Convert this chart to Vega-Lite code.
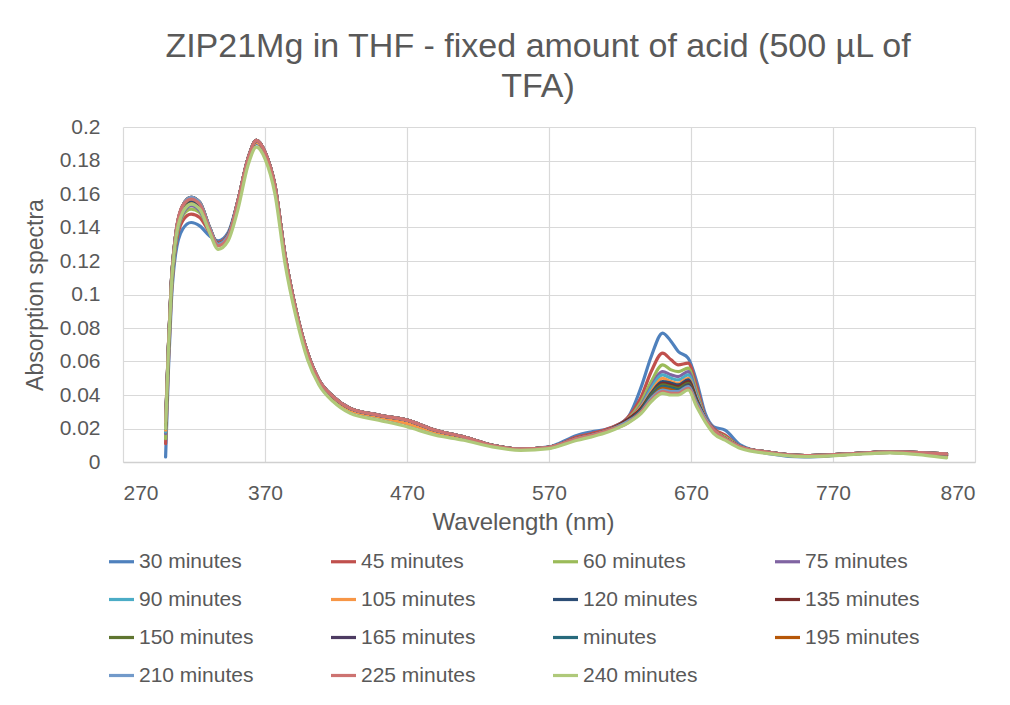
{
  "$schema": "https://vega.github.io/schema/vega-lite/v6.json",
  "width": 852,
  "height": 335,
  "autosize": {"type": "none"},
  "padding": {"left": 123, "top": 127, "right": 35, "bottom": 243},
  "background": "white",
  "title": {
    "text": ["ZIP21Mg in THF - fixed amount of acid (500 µL of", "TFA)"],
    "font": "Liberation Sans",
    "fontSize": 34,
    "fontWeight": "normal",
    "color": "#595959",
    "anchor": "middle",
    "frame": "group",
    "lineHeight": 40,
    "offset": 12,
    "dx": -11
  },
  "data": {
    "values": [
      {"s":"30 minutes","w":300,"a":0.003},{"s":"30 minutes","w":302,"a":0.055},{"s":"30 minutes","w":304,"a":0.095},{"s":"30 minutes","w":307,"a":0.124},{"s":"30 minutes","w":312,"a":0.139},{"s":"30 minutes","w":318,"a":0.143},{"s":"30 minutes","w":324,"a":0.141},{"s":"30 minutes","w":331,"a":0.135},{"s":"30 minutes","w":337,"a":0.132},{"s":"30 minutes","w":344,"a":0.137},
      {"s":"30 minutes","w":351,"a":0.156},{"s":"30 minutes","w":358,"a":0.179},{"s":"30 minutes","w":364,"a":0.190},{"s":"30 minutes","w":370,"a":0.184},{"s":"30 minutes","w":377,"a":0.164},{"s":"30 minutes","w":384,"a":0.123},{"s":"30 minutes","w":392,"a":0.089},{"s":"30 minutes","w":400,"a":0.064},{"s":"30 minutes","w":408,"a":0.048},{"s":"30 minutes","w":418,"a":0.038},{"s":"30 minutes","w":430,"a":0.031},{"s":"30 minutes","w":450,"a":0.027},{"s":"30 minutes","w":470,"a":0.024},{"s":"30 minutes","w":490,"a":0.018},{"s":"30 minutes","w":510,"a":0.014},{"s":"30 minutes","w":530,"a":0.010},{"s":"30 minutes","w":550,"a":0.0075},{"s":"30 minutes","w":570,"a":0.009},
      {"s":"30 minutes","w":590,"a":0.016},{"s":"30 minutes","w":600,"a":0.018},{"s":"30 minutes","w":612,"a":0.020},{"s":"30 minutes","w":625,"a":0.026},{"s":"30 minutes","w":635,"a":0.045},{"s":"30 minutes","w":642,"a":0.063},{"s":"30 minutes","w":650,"a":0.077},{"s":"30 minutes","w":656,"a":0.072},{"s":"30 minutes","w":661,"a":0.066},{"s":"30 minutes","w":668,"a":0.062},{"s":"30 minutes","w":674,"a":0.048},{"s":"30 minutes","w":680,"a":0.029},{"s":"30 minutes","w":686,"a":0.021},{"s":"30 minutes","w":694,"a":0.019},
      {"s":"30 minutes","w":705,"a":0.010},{"s":"30 minutes","w":725,"a":0.005},{"s":"30 minutes","w":750,"a":0.003},{"s":"30 minutes","w":780,"a":0.0045},{"s":"30 minutes","w":810,"a":0.0058},{"s":"30 minutes","w":835,"a":0.0045},{"s":"30 minutes","w":850,"a":0.0035},

      {"s":"45 minutes","w":300,"a":0.011},{"s":"45 minutes","w":302,"a":0.060},{"s":"45 minutes","w":304,"a":0.099},{"s":"45 minutes","w":307,"a":0.128},{"s":"45 minutes","w":312,"a":0.144},{"s":"45 minutes","w":318,"a":0.148},{"s":"45 minutes","w":324,"a":0.146},{"s":"45 minutes","w":331,"a":0.137},{"s":"45 minutes","w":337,"a":0.131},{"s":"45 minutes","w":344,"a":0.136},
      {"s":"45 minutes","w":351,"a":0.155},{"s":"45 minutes","w":358,"a":0.180},{"s":"45 minutes","w":364,"a":0.191},{"s":"45 minutes","w":370,"a":0.184},{"s":"45 minutes","w":377,"a":0.164},{"s":"45 minutes","w":384,"a":0.123},{"s":"45 minutes","w":392,"a":0.089},{"s":"45 minutes","w":400,"a":0.064},{"s":"45 minutes","w":408,"a":0.048},{"s":"45 minutes","w":418,"a":0.038},{"s":"45 minutes","w":430,"a":0.031},{"s":"45 minutes","w":450,"a":0.027},{"s":"45 minutes","w":470,"a":0.023},{"s":"45 minutes","w":490,"a":0.018},{"s":"45 minutes","w":510,"a":0.014},{"s":"45 minutes","w":530,"a":0.010},{"s":"45 minutes","w":550,"a":0.0075},{"s":"45 minutes","w":570,"a":0.0085},
      {"s":"45 minutes","w":590,"a":0.015},{"s":"45 minutes","w":600,"a":0.017},{"s":"45 minutes","w":612,"a":0.020},{"s":"45 minutes","w":625,"a":0.026},{"s":"45 minutes","w":635,"a":0.039},{"s":"45 minutes","w":642,"a":0.054},{"s":"45 minutes","w":650,"a":0.065},{"s":"45 minutes","w":656,"a":0.061},{"s":"45 minutes","w":661,"a":0.058},{"s":"45 minutes","w":668,"a":0.059},{"s":"45 minutes","w":674,"a":0.045},{"s":"45 minutes","w":680,"a":0.027},{"s":"45 minutes","w":686,"a":0.020},{"s":"45 minutes","w":694,"a":0.016},
      {"s":"45 minutes","w":705,"a":0.009},{"s":"45 minutes","w":725,"a":0.0055},{"s":"45 minutes","w":750,"a":0.0035},{"s":"45 minutes","w":780,"a":0.0045},{"s":"45 minutes","w":810,"a":0.0058},{"s":"45 minutes","w":835,"a":0.0048},{"s":"45 minutes","w":850,"a":0.004},

      {"s":"60 minutes","w":300,"a":0.014},{"s":"60 minutes","w":302,"a":0.063},{"s":"60 minutes","w":304,"a":0.101},{"s":"60 minutes","w":307,"a":0.130},{"s":"60 minutes","w":312,"a":0.147},{"s":"60 minutes","w":318,"a":0.151},{"s":"60 minutes","w":324,"a":0.149},{"s":"60 minutes","w":331,"a":0.138},{"s":"60 minutes","w":337,"a":0.130},{"s":"60 minutes","w":344,"a":0.135},
      {"s":"60 minutes","w":351,"a":0.155},{"s":"60 minutes","w":358,"a":0.180},{"s":"60 minutes","w":364,"a":0.191},{"s":"60 minutes","w":370,"a":0.184},{"s":"60 minutes","w":377,"a":0.164},{"s":"60 minutes","w":384,"a":0.123},{"s":"60 minutes","w":392,"a":0.089},{"s":"60 minutes","w":400,"a":0.064},{"s":"60 minutes","w":408,"a":0.048},{"s":"60 minutes","w":418,"a":0.038},{"s":"60 minutes","w":430,"a":0.031},{"s":"60 minutes","w":450,"a":0.027},{"s":"60 minutes","w":470,"a":0.023},{"s":"60 minutes","w":490,"a":0.018},{"s":"60 minutes","w":510,"a":0.014},{"s":"60 minutes","w":530,"a":0.010},{"s":"60 minutes","w":550,"a":0.0075},{"s":"60 minutes","w":570,"a":0.0085},
      {"s":"60 minutes","w":590,"a":0.014},{"s":"60 minutes","w":600,"a":0.016},{"s":"60 minutes","w":612,"a":0.019},{"s":"60 minutes","w":625,"a":0.025},{"s":"60 minutes","w":635,"a":0.036},{"s":"60 minutes","w":642,"a":0.048},{"s":"60 minutes","w":650,"a":0.058},{"s":"60 minutes","w":656,"a":0.055},{"s":"60 minutes","w":661,"a":0.054},{"s":"60 minutes","w":668,"a":0.056},{"s":"60 minutes","w":674,"a":0.042},{"s":"60 minutes","w":680,"a":0.026},{"s":"60 minutes","w":686,"a":0.019},{"s":"60 minutes","w":694,"a":0.015},
      {"s":"60 minutes","w":705,"a":0.009},{"s":"60 minutes","w":725,"a":0.0055},{"s":"60 minutes","w":750,"a":0.0035},{"s":"60 minutes","w":780,"a":0.0045},{"s":"60 minutes","w":810,"a":0.0058},{"s":"60 minutes","w":835,"a":0.0048},{"s":"60 minutes","w":850,"a":0.004},

      {"s":"75 minutes","w":300,"a":0.017},{"s":"75 minutes","w":302,"a":0.065},{"s":"75 minutes","w":304,"a":0.103},{"s":"75 minutes","w":307,"a":0.131},{"s":"75 minutes","w":312,"a":0.148},{"s":"75 minutes","w":318,"a":0.153},{"s":"75 minutes","w":324,"a":0.150},{"s":"75 minutes","w":331,"a":0.138},{"s":"75 minutes","w":337,"a":0.130},{"s":"75 minutes","w":344,"a":0.135},
      {"s":"75 minutes","w":351,"a":0.155},{"s":"75 minutes","w":358,"a":0.180},{"s":"75 minutes","w":364,"a":0.191},{"s":"75 minutes","w":370,"a":0.184},{"s":"75 minutes","w":377,"a":0.164},{"s":"75 minutes","w":384,"a":0.123},{"s":"75 minutes","w":392,"a":0.089},{"s":"75 minutes","w":400,"a":0.064},{"s":"75 minutes","w":408,"a":0.048},{"s":"75 minutes","w":418,"a":0.038},{"s":"75 minutes","w":430,"a":0.031},{"s":"75 minutes","w":450,"a":0.027},{"s":"75 minutes","w":470,"a":0.023},{"s":"75 minutes","w":490,"a":0.018},{"s":"75 minutes","w":510,"a":0.014},{"s":"75 minutes","w":530,"a":0.010},{"s":"75 minutes","w":550,"a":0.0075},{"s":"75 minutes","w":570,"a":0.0085},
      {"s":"75 minutes","w":590,"a":0.014},{"s":"75 minutes","w":600,"a":0.016},{"s":"75 minutes","w":612,"a":0.019},{"s":"75 minutes","w":625,"a":0.025},{"s":"75 minutes","w":635,"a":0.034},{"s":"75 minutes","w":642,"a":0.045},{"s":"75 minutes","w":650,"a":0.054},{"s":"75 minutes","w":656,"a":0.052},{"s":"75 minutes","w":661,"a":0.051},{"s":"75 minutes","w":668,"a":0.054},{"s":"75 minutes","w":674,"a":0.040},{"s":"75 minutes","w":680,"a":0.026},{"s":"75 minutes","w":686,"a":0.019},{"s":"75 minutes","w":694,"a":0.014},
      {"s":"75 minutes","w":705,"a":0.009},{"s":"75 minutes","w":725,"a":0.0055},{"s":"75 minutes","w":750,"a":0.0035},{"s":"75 minutes","w":780,"a":0.0045},{"s":"75 minutes","w":810,"a":0.0058},{"s":"75 minutes","w":835,"a":0.0048},{"s":"75 minutes","w":850,"a":0.004},

      {"s":"90 minutes","w":300,"a":0.018},{"s":"90 minutes","w":302,"a":0.066},{"s":"90 minutes","w":304,"a":0.104},{"s":"90 minutes","w":307,"a":0.132},{"s":"90 minutes","w":312,"a":0.149},{"s":"90 minutes","w":318,"a":0.154},{"s":"90 minutes","w":324,"a":0.151},{"s":"90 minutes","w":331,"a":0.138},{"s":"90 minutes","w":337,"a":0.130},{"s":"90 minutes","w":344,"a":0.135},
      {"s":"90 minutes","w":351,"a":0.155},{"s":"90 minutes","w":358,"a":0.180},{"s":"90 minutes","w":364,"a":0.191},{"s":"90 minutes","w":370,"a":0.184},{"s":"90 minutes","w":377,"a":0.164},{"s":"90 minutes","w":384,"a":0.123},{"s":"90 minutes","w":392,"a":0.089},{"s":"90 minutes","w":400,"a":0.064},{"s":"90 minutes","w":408,"a":0.048},{"s":"90 minutes","w":418,"a":0.038},{"s":"90 minutes","w":430,"a":0.031},{"s":"90 minutes","w":450,"a":0.027},{"s":"90 minutes","w":470,"a":0.023},{"s":"90 minutes","w":490,"a":0.018},{"s":"90 minutes","w":510,"a":0.014},{"s":"90 minutes","w":530,"a":0.010},{"s":"90 minutes","w":550,"a":0.0075},{"s":"90 minutes","w":570,"a":0.0085},
      {"s":"90 minutes","w":590,"a":0.014},{"s":"90 minutes","w":600,"a":0.016},{"s":"90 minutes","w":612,"a":0.019},{"s":"90 minutes","w":625,"a":0.025},{"s":"90 minutes","w":635,"a":0.033},{"s":"90 minutes","w":642,"a":0.044},{"s":"90 minutes","w":650,"a":0.052},{"s":"90 minutes","w":656,"a":0.050},{"s":"90 minutes","w":661,"a":0.049},{"s":"90 minutes","w":668,"a":0.052},{"s":"90 minutes","w":674,"a":0.039},{"s":"90 minutes","w":680,"a":0.026},{"s":"90 minutes","w":686,"a":0.019},{"s":"90 minutes","w":694,"a":0.014},
      {"s":"90 minutes","w":705,"a":0.009},{"s":"90 minutes","w":725,"a":0.0055},{"s":"90 minutes","w":750,"a":0.0035},{"s":"90 minutes","w":780,"a":0.0045},{"s":"90 minutes","w":810,"a":0.0058},{"s":"90 minutes","w":835,"a":0.0048},{"s":"90 minutes","w":850,"a":0.004},

      {"s":"105 minutes","w":300,"a":0.019},{"s":"105 minutes","w":302,"a":0.067},{"s":"105 minutes","w":304,"a":0.105},{"s":"105 minutes","w":307,"a":0.133},{"s":"105 minutes","w":312,"a":0.150},{"s":"105 minutes","w":318,"a":0.155},{"s":"105 minutes","w":324,"a":0.152},{"s":"105 minutes","w":331,"a":0.139},{"s":"105 minutes","w":337,"a":0.130},{"s":"105 minutes","w":344,"a":0.135},
      {"s":"105 minutes","w":351,"a":0.155},{"s":"105 minutes","w":358,"a":0.180},{"s":"105 minutes","w":364,"a":0.191},{"s":"105 minutes","w":370,"a":0.184},{"s":"105 minutes","w":377,"a":0.164},{"s":"105 minutes","w":384,"a":0.123},{"s":"105 minutes","w":392,"a":0.089},{"s":"105 minutes","w":400,"a":0.064},{"s":"105 minutes","w":408,"a":0.048},{"s":"105 minutes","w":418,"a":0.038},{"s":"105 minutes","w":430,"a":0.031},{"s":"105 minutes","w":450,"a":0.027},{"s":"105 minutes","w":470,"a":0.023},{"s":"105 minutes","w":490,"a":0.018},{"s":"105 minutes","w":510,"a":0.014},{"s":"105 minutes","w":530,"a":0.010},{"s":"105 minutes","w":550,"a":0.0075},{"s":"105 minutes","w":570,"a":0.0085},
      {"s":"105 minutes","w":590,"a":0.014},{"s":"105 minutes","w":600,"a":0.016},{"s":"105 minutes","w":612,"a":0.019},{"s":"105 minutes","w":625,"a":0.025},{"s":"105 minutes","w":635,"a":0.033},{"s":"105 minutes","w":642,"a":0.042},{"s":"105 minutes","w":650,"a":0.050},{"s":"105 minutes","w":656,"a":0.048},{"s":"105 minutes","w":661,"a":0.047},{"s":"105 minutes","w":668,"a":0.050},{"s":"105 minutes","w":674,"a":0.038},{"s":"105 minutes","w":680,"a":0.026},{"s":"105 minutes","w":686,"a":0.019},{"s":"105 minutes","w":694,"a":0.014},
      {"s":"105 minutes","w":705,"a":0.009},{"s":"105 minutes","w":725,"a":0.0055},{"s":"105 minutes","w":750,"a":0.0035},{"s":"105 minutes","w":780,"a":0.0045},{"s":"105 minutes","w":810,"a":0.0058},{"s":"105 minutes","w":835,"a":0.0048},{"s":"105 minutes","w":850,"a":0.004},

      {"s":"120 minutes","w":300,"a":0.020},{"s":"120 minutes","w":302,"a":0.068},{"s":"120 minutes","w":304,"a":0.105},{"s":"120 minutes","w":307,"a":0.133},{"s":"120 minutes","w":312,"a":0.151},{"s":"120 minutes","w":318,"a":0.156},{"s":"120 minutes","w":324,"a":0.153},{"s":"120 minutes","w":331,"a":0.139},{"s":"120 minutes","w":337,"a":0.130},{"s":"120 minutes","w":344,"a":0.135},
      {"s":"120 minutes","w":351,"a":0.156},{"s":"120 minutes","w":358,"a":0.181},{"s":"120 minutes","w":364,"a":0.192},{"s":"120 minutes","w":370,"a":0.185},{"s":"120 minutes","w":377,"a":0.165},{"s":"120 minutes","w":384,"a":0.124},{"s":"120 minutes","w":392,"a":0.090},{"s":"120 minutes","w":400,"a":0.065},{"s":"120 minutes","w":408,"a":0.049},{"s":"120 minutes","w":418,"a":0.039},{"s":"120 minutes","w":430,"a":0.032},{"s":"120 minutes","w":450,"a":0.028},{"s":"120 minutes","w":470,"a":0.025},{"s":"120 minutes","w":490,"a":0.019},{"s":"120 minutes","w":510,"a":0.015},{"s":"120 minutes","w":530,"a":0.010},{"s":"120 minutes","w":550,"a":0.0078},{"s":"120 minutes","w":570,"a":0.0088},
      {"s":"120 minutes","w":590,"a":0.014},{"s":"120 minutes","w":600,"a":0.016},{"s":"120 minutes","w":612,"a":0.019},{"s":"120 minutes","w":625,"a":0.025},{"s":"120 minutes","w":635,"a":0.032},{"s":"120 minutes","w":642,"a":0.041},{"s":"120 minutes","w":650,"a":0.048},{"s":"120 minutes","w":656,"a":0.047},{"s":"120 minutes","w":661,"a":0.046},{"s":"120 minutes","w":668,"a":0.049},{"s":"120 minutes","w":674,"a":0.037},{"s":"120 minutes","w":680,"a":0.026},{"s":"120 minutes","w":686,"a":0.019},{"s":"120 minutes","w":694,"a":0.014},
      {"s":"120 minutes","w":705,"a":0.009},{"s":"120 minutes","w":725,"a":0.0058},{"s":"120 minutes","w":750,"a":0.0038},{"s":"120 minutes","w":780,"a":0.0048},{"s":"120 minutes","w":810,"a":0.006},{"s":"120 minutes","w":835,"a":0.0055},{"s":"120 minutes","w":850,"a":0.0048},

      {"s":"135 minutes","w":300,"a":0.021},{"s":"135 minutes","w":302,"a":0.068},{"s":"135 minutes","w":304,"a":0.106},{"s":"135 minutes","w":307,"a":0.134},{"s":"135 minutes","w":312,"a":0.152},{"s":"135 minutes","w":318,"a":0.157},{"s":"135 minutes","w":324,"a":0.154},{"s":"135 minutes","w":331,"a":0.139},{"s":"135 minutes","w":337,"a":0.130},{"s":"135 minutes","w":344,"a":0.135},
      {"s":"135 minutes","w":351,"a":0.156},{"s":"135 minutes","w":358,"a":0.181},{"s":"135 minutes","w":364,"a":0.192},{"s":"135 minutes","w":370,"a":0.185},{"s":"135 minutes","w":377,"a":0.165},{"s":"135 minutes","w":384,"a":0.124},{"s":"135 minutes","w":392,"a":0.090},{"s":"135 minutes","w":400,"a":0.065},{"s":"135 minutes","w":408,"a":0.049},{"s":"135 minutes","w":418,"a":0.039},{"s":"135 minutes","w":430,"a":0.032},{"s":"135 minutes","w":450,"a":0.028},{"s":"135 minutes","w":470,"a":0.025},{"s":"135 minutes","w":490,"a":0.019},{"s":"135 minutes","w":510,"a":0.015},{"s":"135 minutes","w":530,"a":0.010},{"s":"135 minutes","w":550,"a":0.0078},{"s":"135 minutes","w":570,"a":0.0088},
      {"s":"135 minutes","w":590,"a":0.014},{"s":"135 minutes","w":600,"a":0.016},{"s":"135 minutes","w":612,"a":0.019},{"s":"135 minutes","w":625,"a":0.025},{"s":"135 minutes","w":635,"a":0.032},{"s":"135 minutes","w":642,"a":0.040},{"s":"135 minutes","w":650,"a":0.047},{"s":"135 minutes","w":656,"a":0.046},{"s":"135 minutes","w":661,"a":0.045},{"s":"135 minutes","w":668,"a":0.048},{"s":"135 minutes","w":674,"a":0.037},{"s":"135 minutes","w":680,"a":0.026},{"s":"135 minutes","w":686,"a":0.019},{"s":"135 minutes","w":694,"a":0.014},
      {"s":"135 minutes","w":705,"a":0.009},{"s":"135 minutes","w":725,"a":0.0058},{"s":"135 minutes","w":750,"a":0.0038},{"s":"135 minutes","w":780,"a":0.0048},{"s":"135 minutes","w":810,"a":0.006},{"s":"135 minutes","w":835,"a":0.0055},{"s":"135 minutes","w":850,"a":0.0048},

      {"s":"150 minutes","w":300,"a":0.022},{"s":"150 minutes","w":302,"a":0.069},{"s":"150 minutes","w":304,"a":0.106},{"s":"150 minutes","w":307,"a":0.134},{"s":"150 minutes","w":312,"a":0.152},{"s":"150 minutes","w":318,"a":0.157},{"s":"150 minutes","w":324,"a":0.154},{"s":"150 minutes","w":331,"a":0.139},{"s":"150 minutes","w":337,"a":0.130},{"s":"150 minutes","w":344,"a":0.135},
      {"s":"150 minutes","w":351,"a":0.156},{"s":"150 minutes","w":358,"a":0.181},{"s":"150 minutes","w":364,"a":0.192},{"s":"150 minutes","w":370,"a":0.185},{"s":"150 minutes","w":377,"a":0.165},{"s":"150 minutes","w":384,"a":0.124},{"s":"150 minutes","w":392,"a":0.090},{"s":"150 minutes","w":400,"a":0.065},{"s":"150 minutes","w":408,"a":0.049},{"s":"150 minutes","w":418,"a":0.039},{"s":"150 minutes","w":430,"a":0.032},{"s":"150 minutes","w":450,"a":0.028},{"s":"150 minutes","w":470,"a":0.025},{"s":"150 minutes","w":490,"a":0.019},{"s":"150 minutes","w":510,"a":0.015},{"s":"150 minutes","w":530,"a":0.010},{"s":"150 minutes","w":550,"a":0.0078},{"s":"150 minutes","w":570,"a":0.0088},
      {"s":"150 minutes","w":590,"a":0.014},{"s":"150 minutes","w":600,"a":0.016},{"s":"150 minutes","w":612,"a":0.019},{"s":"150 minutes","w":625,"a":0.024},{"s":"150 minutes","w":635,"a":0.031},{"s":"150 minutes","w":642,"a":0.040},{"s":"150 minutes","w":650,"a":0.046},{"s":"150 minutes","w":656,"a":0.045},{"s":"150 minutes","w":661,"a":0.044},{"s":"150 minutes","w":668,"a":0.047},{"s":"150 minutes","w":674,"a":0.036},{"s":"150 minutes","w":680,"a":0.026},{"s":"150 minutes","w":686,"a":0.019},{"s":"150 minutes","w":694,"a":0.014},
      {"s":"150 minutes","w":705,"a":0.009},{"s":"150 minutes","w":725,"a":0.0058},{"s":"150 minutes","w":750,"a":0.0038},{"s":"150 minutes","w":780,"a":0.0048},{"s":"150 minutes","w":810,"a":0.006},{"s":"150 minutes","w":835,"a":0.0055},{"s":"150 minutes","w":850,"a":0.0048},

      {"s":"165 minutes","w":300,"a":0.022},{"s":"165 minutes","w":302,"a":0.069},{"s":"165 minutes","w":304,"a":0.107},{"s":"165 minutes","w":307,"a":0.135},{"s":"165 minutes","w":312,"a":0.153},{"s":"165 minutes","w":318,"a":0.158},{"s":"165 minutes","w":324,"a":0.155},{"s":"165 minutes","w":331,"a":0.140},{"s":"165 minutes","w":337,"a":0.130},{"s":"165 minutes","w":344,"a":0.135},
      {"s":"165 minutes","w":351,"a":0.156},{"s":"165 minutes","w":358,"a":0.181},{"s":"165 minutes","w":364,"a":0.192},{"s":"165 minutes","w":370,"a":0.185},{"s":"165 minutes","w":377,"a":0.165},{"s":"165 minutes","w":384,"a":0.124},{"s":"165 minutes","w":392,"a":0.090},{"s":"165 minutes","w":400,"a":0.065},{"s":"165 minutes","w":408,"a":0.049},{"s":"165 minutes","w":418,"a":0.039},{"s":"165 minutes","w":430,"a":0.032},{"s":"165 minutes","w":450,"a":0.028},{"s":"165 minutes","w":470,"a":0.025},{"s":"165 minutes","w":490,"a":0.019},{"s":"165 minutes","w":510,"a":0.015},{"s":"165 minutes","w":530,"a":0.010},{"s":"165 minutes","w":550,"a":0.0078},{"s":"165 minutes","w":570,"a":0.0088},
      {"s":"165 minutes","w":590,"a":0.014},{"s":"165 minutes","w":600,"a":0.016},{"s":"165 minutes","w":612,"a":0.019},{"s":"165 minutes","w":625,"a":0.024},{"s":"165 minutes","w":635,"a":0.031},{"s":"165 minutes","w":642,"a":0.039},{"s":"165 minutes","w":650,"a":0.045},{"s":"165 minutes","w":656,"a":0.044},{"s":"165 minutes","w":661,"a":0.043},{"s":"165 minutes","w":668,"a":0.046},{"s":"165 minutes","w":674,"a":0.036},{"s":"165 minutes","w":680,"a":0.026},{"s":"165 minutes","w":686,"a":0.019},{"s":"165 minutes","w":694,"a":0.014},
      {"s":"165 minutes","w":705,"a":0.009},{"s":"165 minutes","w":725,"a":0.0058},{"s":"165 minutes","w":750,"a":0.0038},{"s":"165 minutes","w":780,"a":0.0048},{"s":"165 minutes","w":810,"a":0.006},{"s":"165 minutes","w":835,"a":0.0055},{"s":"165 minutes","w":850,"a":0.0048},

      {"s":"minutes","w":300,"a":0.023},{"s":"minutes","w":302,"a":0.069},{"s":"minutes","w":304,"a":0.107},{"s":"minutes","w":307,"a":0.135},{"s":"minutes","w":312,"a":0.153},{"s":"minutes","w":318,"a":0.158},{"s":"minutes","w":324,"a":0.155},{"s":"minutes","w":331,"a":0.140},{"s":"minutes","w":337,"a":0.130},{"s":"minutes","w":344,"a":0.135},
      {"s":"minutes","w":351,"a":0.156},{"s":"minutes","w":358,"a":0.181},{"s":"minutes","w":364,"a":0.192},{"s":"minutes","w":370,"a":0.185},{"s":"minutes","w":377,"a":0.165},{"s":"minutes","w":384,"a":0.124},{"s":"minutes","w":392,"a":0.090},{"s":"minutes","w":400,"a":0.065},{"s":"minutes","w":408,"a":0.049},{"s":"minutes","w":418,"a":0.039},{"s":"minutes","w":430,"a":0.032},{"s":"minutes","w":450,"a":0.028},{"s":"minutes","w":470,"a":0.025},{"s":"minutes","w":490,"a":0.019},{"s":"minutes","w":510,"a":0.015},{"s":"minutes","w":530,"a":0.010},{"s":"minutes","w":550,"a":0.0078},{"s":"minutes","w":570,"a":0.0088},
      {"s":"minutes","w":590,"a":0.014},{"s":"minutes","w":600,"a":0.016},{"s":"minutes","w":612,"a":0.019},{"s":"minutes","w":625,"a":0.024},{"s":"minutes","w":635,"a":0.031},{"s":"minutes","w":642,"a":0.039},{"s":"minutes","w":650,"a":0.045},{"s":"minutes","w":656,"a":0.044},{"s":"minutes","w":661,"a":0.043},{"s":"minutes","w":668,"a":0.0455},{"s":"minutes","w":674,"a":0.036},{"s":"minutes","w":680,"a":0.026},{"s":"minutes","w":686,"a":0.019},{"s":"minutes","w":694,"a":0.014},
      {"s":"minutes","w":705,"a":0.009},{"s":"minutes","w":725,"a":0.0058},{"s":"minutes","w":750,"a":0.0038},{"s":"minutes","w":780,"a":0.0048},{"s":"minutes","w":810,"a":0.006},{"s":"minutes","w":835,"a":0.0055},{"s":"minutes","w":850,"a":0.0048},

      {"s":"195 minutes","w":300,"a":0.023},{"s":"195 minutes","w":302,"a":0.070},{"s":"195 minutes","w":304,"a":0.107},{"s":"195 minutes","w":307,"a":0.135},{"s":"195 minutes","w":312,"a":0.153},{"s":"195 minutes","w":318,"a":0.158},{"s":"195 minutes","w":324,"a":0.155},{"s":"195 minutes","w":331,"a":0.140},{"s":"195 minutes","w":337,"a":0.130},{"s":"195 minutes","w":344,"a":0.135},
      {"s":"195 minutes","w":351,"a":0.156},{"s":"195 minutes","w":358,"a":0.181},{"s":"195 minutes","w":364,"a":0.192},{"s":"195 minutes","w":370,"a":0.185},{"s":"195 minutes","w":377,"a":0.165},{"s":"195 minutes","w":384,"a":0.124},{"s":"195 minutes","w":392,"a":0.090},{"s":"195 minutes","w":400,"a":0.065},{"s":"195 minutes","w":408,"a":0.049},{"s":"195 minutes","w":418,"a":0.039},{"s":"195 minutes","w":430,"a":0.032},{"s":"195 minutes","w":450,"a":0.028},{"s":"195 minutes","w":470,"a":0.025},{"s":"195 minutes","w":490,"a":0.019},{"s":"195 minutes","w":510,"a":0.015},{"s":"195 minutes","w":530,"a":0.010},{"s":"195 minutes","w":550,"a":0.0078},{"s":"195 minutes","w":570,"a":0.0088},
      {"s":"195 minutes","w":590,"a":0.014},{"s":"195 minutes","w":600,"a":0.016},{"s":"195 minutes","w":612,"a":0.019},{"s":"195 minutes","w":625,"a":0.024},{"s":"195 minutes","w":635,"a":0.030},{"s":"195 minutes","w":642,"a":0.038},{"s":"195 minutes","w":650,"a":0.044},{"s":"195 minutes","w":656,"a":0.043},{"s":"195 minutes","w":661,"a":0.042},{"s":"195 minutes","w":668,"a":0.045},{"s":"195 minutes","w":674,"a":0.035},{"s":"195 minutes","w":680,"a":0.026},{"s":"195 minutes","w":686,"a":0.019},{"s":"195 minutes","w":694,"a":0.014},
      {"s":"195 minutes","w":705,"a":0.009},{"s":"195 minutes","w":725,"a":0.0058},{"s":"195 minutes","w":750,"a":0.0038},{"s":"195 minutes","w":780,"a":0.0048},{"s":"195 minutes","w":810,"a":0.006},{"s":"195 minutes","w":835,"a":0.0055},{"s":"195 minutes","w":850,"a":0.0048},

      {"s":"210 minutes","w":300,"a":0.024},{"s":"210 minutes","w":302,"a":0.070},{"s":"210 minutes","w":304,"a":0.107},{"s":"210 minutes","w":307,"a":0.135},{"s":"210 minutes","w":312,"a":0.153},{"s":"210 minutes","w":318,"a":0.158},{"s":"210 minutes","w":324,"a":0.155},{"s":"210 minutes","w":331,"a":0.140},{"s":"210 minutes","w":337,"a":0.130},{"s":"210 minutes","w":344,"a":0.135},
      {"s":"210 minutes","w":351,"a":0.156},{"s":"210 minutes","w":358,"a":0.181},{"s":"210 minutes","w":364,"a":0.192},{"s":"210 minutes","w":370,"a":0.185},{"s":"210 minutes","w":377,"a":0.165},{"s":"210 minutes","w":384,"a":0.124},{"s":"210 minutes","w":392,"a":0.090},{"s":"210 minutes","w":400,"a":0.065},{"s":"210 minutes","w":408,"a":0.049},{"s":"210 minutes","w":418,"a":0.039},{"s":"210 minutes","w":430,"a":0.032},{"s":"210 minutes","w":450,"a":0.028},{"s":"210 minutes","w":470,"a":0.025},{"s":"210 minutes","w":490,"a":0.019},{"s":"210 minutes","w":510,"a":0.015},{"s":"210 minutes","w":530,"a":0.010},{"s":"210 minutes","w":550,"a":0.0078},{"s":"210 minutes","w":570,"a":0.0088},
      {"s":"210 minutes","w":590,"a":0.014},{"s":"210 minutes","w":600,"a":0.016},{"s":"210 minutes","w":612,"a":0.019},{"s":"210 minutes","w":625,"a":0.024},{"s":"210 minutes","w":635,"a":0.030},{"s":"210 minutes","w":642,"a":0.038},{"s":"210 minutes","w":650,"a":0.043},{"s":"210 minutes","w":656,"a":0.042},{"s":"210 minutes","w":661,"a":0.042},{"s":"210 minutes","w":668,"a":0.045},{"s":"210 minutes","w":674,"a":0.035},{"s":"210 minutes","w":680,"a":0.026},{"s":"210 minutes","w":686,"a":0.019},{"s":"210 minutes","w":694,"a":0.014},
      {"s":"210 minutes","w":705,"a":0.009},{"s":"210 minutes","w":725,"a":0.0058},{"s":"210 minutes","w":750,"a":0.0038},{"s":"210 minutes","w":780,"a":0.0048},{"s":"210 minutes","w":810,"a":0.006},{"s":"210 minutes","w":835,"a":0.0055},{"s":"210 minutes","w":850,"a":0.0048},

      {"s":"225 minutes","w":300,"a":0.024},{"s":"225 minutes","w":302,"a":0.070},{"s":"225 minutes","w":304,"a":0.107},{"s":"225 minutes","w":307,"a":0.135},{"s":"225 minutes","w":312,"a":0.153},{"s":"225 minutes","w":318,"a":0.157},{"s":"225 minutes","w":324,"a":0.154},{"s":"225 minutes","w":331,"a":0.139},{"s":"225 minutes","w":337,"a":0.129},{"s":"225 minutes","w":344,"a":0.134},
      {"s":"225 minutes","w":351,"a":0.156},{"s":"225 minutes","w":358,"a":0.181},{"s":"225 minutes","w":364,"a":0.192},{"s":"225 minutes","w":370,"a":0.185},{"s":"225 minutes","w":377,"a":0.165},{"s":"225 minutes","w":384,"a":0.124},{"s":"225 minutes","w":392,"a":0.090},{"s":"225 minutes","w":400,"a":0.065},{"s":"225 minutes","w":408,"a":0.049},{"s":"225 minutes","w":418,"a":0.039},{"s":"225 minutes","w":430,"a":0.032},{"s":"225 minutes","w":450,"a":0.028},{"s":"225 minutes","w":470,"a":0.025},{"s":"225 minutes","w":490,"a":0.019},{"s":"225 minutes","w":510,"a":0.015},{"s":"225 minutes","w":530,"a":0.010},{"s":"225 minutes","w":550,"a":0.0078},{"s":"225 minutes","w":570,"a":0.0088},
      {"s":"225 minutes","w":590,"a":0.014},{"s":"225 minutes","w":600,"a":0.016},{"s":"225 minutes","w":612,"a":0.019},{"s":"225 minutes","w":625,"a":0.023},{"s":"225 minutes","w":635,"a":0.030},{"s":"225 minutes","w":642,"a":0.037},{"s":"225 minutes","w":650,"a":0.042},{"s":"225 minutes","w":656,"a":0.041},{"s":"225 minutes","w":661,"a":0.041},{"s":"225 minutes","w":668,"a":0.044},{"s":"225 minutes","w":674,"a":0.034},{"s":"225 minutes","w":680,"a":0.025},{"s":"225 minutes","w":686,"a":0.019},{"s":"225 minutes","w":694,"a":0.014},
      {"s":"225 minutes","w":705,"a":0.009},{"s":"225 minutes","w":725,"a":0.0058},{"s":"225 minutes","w":750,"a":0.0038},{"s":"225 minutes","w":780,"a":0.0048},{"s":"225 minutes","w":810,"a":0.006},{"s":"225 minutes","w":835,"a":0.0055},{"s":"225 minutes","w":850,"a":0.0048},

      {"s":"240 minutes","w":300,"a":0.020},{"s":"240 minutes","w":302,"a":0.067},{"s":"240 minutes","w":304,"a":0.104},{"s":"240 minutes","w":307,"a":0.132},{"s":"240 minutes","w":312,"a":0.149},{"s":"240 minutes","w":318,"a":0.154},{"s":"240 minutes","w":324,"a":0.151},{"s":"240 minutes","w":331,"a":0.137},{"s":"240 minutes","w":337,"a":0.127},{"s":"240 minutes","w":344,"a":0.132},
      {"s":"240 minutes","w":351,"a":0.151},{"s":"240 minutes","w":358,"a":0.177},{"s":"240 minutes","w":364,"a":0.188},{"s":"240 minutes","w":370,"a":0.181},{"s":"240 minutes","w":377,"a":0.160},{"s":"240 minutes","w":384,"a":0.119},{"s":"240 minutes","w":392,"a":0.086},{"s":"240 minutes","w":400,"a":0.061},{"s":"240 minutes","w":408,"a":0.046},{"s":"240 minutes","w":418,"a":0.036},{"s":"240 minutes","w":430,"a":0.029},{"s":"240 minutes","w":450,"a":0.025},{"s":"240 minutes","w":470,"a":0.021},{"s":"240 minutes","w":490,"a":0.016},{"s":"240 minutes","w":510,"a":0.013},{"s":"240 minutes","w":530,"a":0.009},{"s":"240 minutes","w":550,"a":0.007},{"s":"240 minutes","w":570,"a":0.008},
      {"s":"240 minutes","w":590,"a":0.013},{"s":"240 minutes","w":600,"a":0.015},{"s":"240 minutes","w":612,"a":0.018},{"s":"240 minutes","w":625,"a":0.023},{"s":"240 minutes","w":635,"a":0.029},{"s":"240 minutes","w":642,"a":0.036},{"s":"240 minutes","w":650,"a":0.041},{"s":"240 minutes","w":656,"a":0.040},{"s":"240 minutes","w":661,"a":0.040},{"s":"240 minutes","w":668,"a":0.043},{"s":"240 minutes","w":674,"a":0.033},{"s":"240 minutes","w":680,"a":0.024},{"s":"240 minutes","w":686,"a":0.017},{"s":"240 minutes","w":694,"a":0.013},
      {"s":"240 minutes","w":705,"a":0.008},{"s":"240 minutes","w":725,"a":0.005},{"s":"240 minutes","w":750,"a":0.0032},{"s":"240 minutes","w":780,"a":0.0042},{"s":"240 minutes","w":810,"a":0.0055},{"s":"240 minutes","w":835,"a":0.004},{"s":"240 minutes","w":850,"a":0.0025}
    ]
  },
  "mark": {"type": "line", "strokeWidth": 3.2, "interpolate": "monotone", "strokeCap": "round", "strokeJoin": "round"},
  "encoding": {
    "x": {
      "field": "w",
      "type": "quantitative",
      "scale": {"domain": [270, 870], "nice": false, "zero": false},
      "axis": {
        "title": "Wavelength (nm)",
        "titleX": 400,
        "titleFontSize": 24,
        "values": [270, 370, 470, 570, 670, 770, 870],
        "format": "d",
        "ticks": false,
        "labelPadding": 20,
        "titlePadding": 7,
        "domainColor": "#D0D0D0",
        "domainWidth": 1.5
      }
    },
    "y": {
      "field": "a",
      "type": "quantitative",
      "scale": {"domain": [0, 0.2], "nice": false},
      "axis": {
        "title": "Absorption spectra",
        "values": [0, 0.02, 0.04, 0.06, 0.08, 0.1, 0.12, 0.14, 0.16, 0.18, 0.2],
        "format": "~g",
        "ticks": false,
        "domain": false,
        "labelPadding": 23,
        "titlePadding": 12
      }
    },
    "color": {
      "field": "s",
      "type": "nominal",
      "scale": {
        "domain": ["30 minutes", "45 minutes", "60 minutes", "75 minutes", "90 minutes", "105 minutes", "120 minutes", "135 minutes", "150 minutes", "165 minutes", "minutes", "195 minutes", "210 minutes", "225 minutes", "240 minutes"],
        "range": ["#4F81BD", "#C0504D", "#9BBB59", "#8064A2", "#4BACC6", "#F79646", "#2C4D75", "#772C2A", "#5F7530", "#4D3B62", "#276A7C", "#B65708", "#729ACA", "#CD7371", "#AFC97A"]
      },
      "legend": {
        "title": null,
        "orient": "none",
        "legendX": -16,
        "legendY": 420,
        "direction": "horizontal",
        "columns": 4,
        "gridAlign": "all",
        "columnPadding": 70,
        "rowPadding": 13,
        "symbolType": "stroke",
        "symbolSize": 625,
        "symbolStrokeWidth": 3.2,
        "labelOffset": 3,
        "labelLimit": 220
      }
    }
  },
  "config": {
    "view": {"stroke": null},
    "font": "Liberation Sans",
    "axis": {
      "labelFont": "Liberation Sans",
      "labelFontSize": 21,
      "labelColor": "#595959",
      "titleFont": "Liberation Sans",
      "titleFontSize": 23,
      "titleFontWeight": "normal",
      "titleColor": "#595959",
      "gridColor": "#D9D9D9",
      "gridWidth": 1.2,
      "grid": true
    },
    "legend": {
      "labelFont": "Liberation Sans",
      "labelFontSize": 21,
      "labelColor": "#595959"
    }
  }
}
